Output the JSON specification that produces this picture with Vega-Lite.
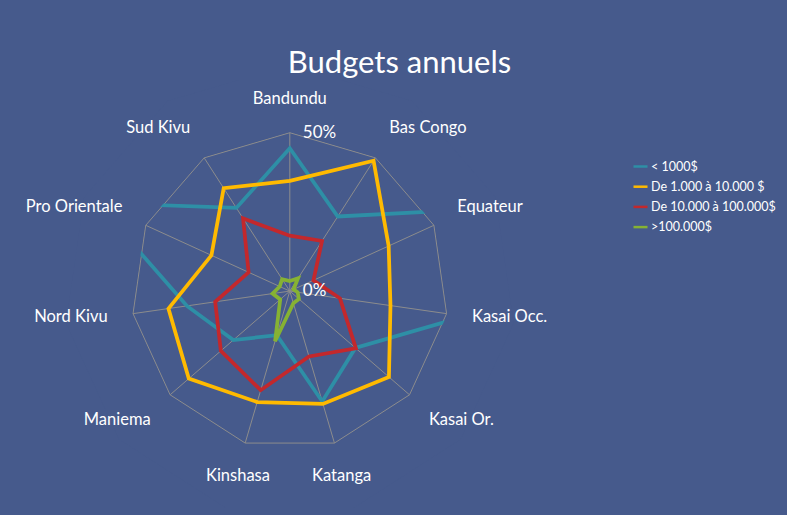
{
  "$schema": "https://vega.github.io/schema/vega-lite/v6.json",
  "width": 787,
  "height": 435,
  "autosize": {"type": "none"},
  "padding": {"left": 0, "top": 80, "right": 0, "bottom": 0},
  "background": "#465A8C",
  "view": {"fill": "#465A8C", "stroke": null},
  "config": {"font": "Lato"},
  "title": {"text": "Budgets annuels", "color": "#ffffff", "fontSize": 31, "font": "Lato", "fontWeight": "normal", "anchor": "middle", "frame": "group", "offset": -24, "baseline": "alphabetic", "dx": 6},
  "datasets": {
    "budgets": [
      {"region": "Bandundu", "series": "< 1000$", "value": 45.1},
      {"region": "Bas Congo", "series": "< 1000$", "value": 28.0},
      {"region": "Equateur", "series": "< 1000$", "value": 61.9},
      {"region": "Kasai Occ.", "series": "< 1000$", "value": 55.8},
      {"region": "Kasai Or.", "series": "< 1000$", "value": 27.4},
      {"region": "Katanga", "series": "< 1000$", "value": 36.3},
      {"region": "Kinshasa", "series": "< 1000$", "value": 14.5},
      {"region": "Maniema", "series": "< 1000$", "value": 23.6},
      {"region": "Nord Kivu", "series": "< 1000$", "value": 32.8},
      {"region": "Pro Orientale", "series": "< 1000$", "value": 67.0},
      {"region": "Sud Kivu", "series": "< 1000$", "value": 31.2},
      {"region": "Bandundu", "series": "De 1.000 à 10.000 $", "value": 34.8},
      {"region": "Bas Congo", "series": "De 1.000 à 10.000 $", "value": 48.9},
      {"region": "Equateur", "series": "De 1.000 à 10.000 $", "value": 34.3},
      {"region": "Kasai Occ.", "series": "De 1.000 à 10.000 $", "value": 32.1},
      {"region": "Kasai Or.", "series": "De 1.000 à 10.000 $", "value": 41.4},
      {"region": "Katanga", "series": "De 1.000 à 10.000 $", "value": 37.1},
      {"region": "Kinshasa", "series": "De 1.000 à 10.000 $", "value": 36.5},
      {"region": "Maniema", "series": "De 1.000 à 10.000 $", "value": 42.2},
      {"region": "Nord Kivu", "series": "De 1.000 à 10.000 $", "value": 38.7},
      {"region": "Pro Orientale", "series": "De 1.000 à 10.000 $", "value": 27.2},
      {"region": "Sud Kivu", "series": "De 1.000 à 10.000 $", "value": 38.6},
      {"region": "Bandundu", "series": "De 10.000 à 100.000$", "value": 17.5},
      {"region": "Bas Congo", "series": "De 10.000 à 100.000$", "value": 18.8},
      {"region": "Equateur", "series": "De 10.000 à 100.000$", "value": 8.2},
      {"region": "Kasai Occ.", "series": "De 10.000 à 100.000$", "value": 16.0},
      {"region": "Kasai Or.", "series": "De 10.000 à 100.000$", "value": 27.6},
      {"region": "Katanga", "series": "De 10.000 à 100.000$", "value": 21.5},
      {"region": "Kinshasa", "series": "De 10.000 à 100.000$", "value": 32.6},
      {"region": "Maniema", "series": "De 10.000 à 100.000$", "value": 28.8},
      {"region": "Nord Kivu", "series": "De 10.000 à 100.000$", "value": 23.8},
      {"region": "Pro Orientale", "series": "De 10.000 à 100.000$", "value": 14.3},
      {"region": "Sud Kivu", "series": "De 10.000 à 100.000$", "value": 27.3},
      {"region": "Bandundu", "series": ">100.000$", "value": 3.2},
      {"region": "Bas Congo", "series": ">100.000$", "value": 4.8},
      {"region": "Equateur", "series": ">100.000$", "value": 1.3},
      {"region": "Kasai Occ.", "series": ">100.000$", "value": 2.5},
      {"region": "Kasai Or.", "series": ">100.000$", "value": 3.8},
      {"region": "Katanga", "series": ">100.000$", "value": 4.0},
      {"region": "Kinshasa", "series": ">100.000$", "value": 16.5},
      {"region": "Maniema", "series": ">100.000$", "value": 4.0},
      {"region": "Nord Kivu", "series": ">100.000$", "value": 5.5},
      {"region": "Pro Orientale", "series": ">100.000$", "value": 3.5},
      {"region": "Sud Kivu", "series": ">100.000$", "value": 4.5}
    ],
    "regions": [
      {"region": "Bandundu"}, {"region": "Bas Congo"}, {"region": "Equateur"}, {"region": "Kasai Occ."},
      {"region": "Kasai Or."}, {"region": "Katanga"}, {"region": "Kinshasa"}, {"region": "Maniema"},
      {"region": "Nord Kivu"}, {"region": "Pro Orientale"}, {"region": "Sud Kivu"}
    ],
    "valueTicks": [
      {"v": 0, "label": "0%"},
      {"v": 50, "label": "50%"}
    ]
  },
  "layer": [
    {
      "data": {"name": "regions"},
      "transform": [
        {"calculate": "indexof(['Bandundu','Bas Congo','Equateur','Kasai Occ.','Kasai Or.','Katanga','Kinshasa','Maniema','Nord Kivu','Pro Orientale','Sud Kivu'], datum.region)", "as": "idx"},
        {"calculate": "datum.idx * 2 * PI / 11", "as": "ang"},
        {"calculate": "50 * sin(datum.ang)", "as": "px"},
        {"calculate": "50 * cos(datum.ang)", "as": "py"}
      ],
      "mark": {"type": "rule", "color": "#8c8c8c", "strokeWidth": 1},
      "encoding": {
        "x": {"field": "px", "type": "quantitative", "scale": {"domain": [-91.48, 156.94], "nice": false, "zero": false}, "axis": null},
        "y": {"field": "py", "type": "quantitative", "scale": {"domain": [-70.68, 66.64], "nice": false, "zero": false}, "axis": null},
        "x2": {"datum": 0},
        "y2": {"datum": 0}
      }
    },
    {
      "data": {"name": "regions"},
      "transform": [
        {"calculate": "indexof(['Bandundu','Bas Congo','Equateur','Kasai Occ.','Kasai Or.','Katanga','Kinshasa','Maniema','Nord Kivu','Pro Orientale','Sud Kivu'], datum.region)", "as": "idx"},
        {"calculate": "datum.idx * 2 * PI / 11", "as": "ang"},
        {"calculate": "50 * sin(datum.ang)", "as": "px"},
        {"calculate": "50 * cos(datum.ang)", "as": "py"}
      ],
      "mark": {"type": "line", "color": "#8c8c8c", "strokeWidth": 1, "interpolate": "linear-closed"},
      "encoding": {
        "x": {"field": "px", "type": "quantitative", "axis": null},
        "y": {"field": "py", "type": "quantitative", "axis": null},
        "order": {"field": "idx", "type": "quantitative"}
      }
    },
    {
      "data": {"name": "budgets"},
      "transform": [
        {"calculate": "indexof(['Bandundu','Bas Congo','Equateur','Kasai Occ.','Kasai Or.','Katanga','Kinshasa','Maniema','Nord Kivu','Pro Orientale','Sud Kivu'], datum.region)", "as": "idx"},
        {"calculate": "datum.idx * 2 * PI / 11", "as": "ang"},
        {"calculate": "datum.value * sin(datum.ang)", "as": "vx"},
        {"calculate": "datum.value * cos(datum.ang)", "as": "vy"}
      ],
      "mark": {"type": "line", "strokeWidth": 3.75, "interpolate": "linear-closed", "strokeJoin": "miter", "clip": true},
      "encoding": {
        "x": {"field": "vx", "type": "quantitative", "axis": null},
        "y": {"field": "vy", "type": "quantitative", "axis": null},
        "order": {"field": "idx", "type": "quantitative"},
        "color": {
          "field": "series",
          "type": "nominal",
          "scale": {"domain": ["< 1000$", "De 1.000 à 10.000 $", "De 10.000 à 100.000$", ">100.000$"], "range": ["#2E8FA6", "#FFBA00", "#C3282C", "#86B233"]},
          "legend": {"orient": "none", "legendX": 632, "legendY": 78, "title": null, "symbolType": "stroke", "symbolSize": 196, "symbolStrokeWidth": 2.5, "labelColor": "#ffffff", "labelFontSize": 12.5, "labelFont": "Lato", "rowPadding": 5.2, "padding": 0, "labelOffset": 2}
        }
      }
    },
    {
      "data": {"name": "regions"},
      "transform": [
        {"calculate": "indexof(['Bandundu','Bas Congo','Equateur','Kasai Occ.','Kasai Or.','Katanga','Kinshasa','Maniema','Nord Kivu','Pro Orientale','Sud Kivu'], datum.region)", "as": "idx"},
        {"calculate": "datum.idx * 2 * PI / 11", "as": "ang"},
        {"calculate": "60.85 * sin(datum.ang)", "as": "mx"},
        {"calculate": "60.85 * cos(datum.ang)", "as": "my"}
      ],
      "mark": {"type": "line", "color": "#465A8C", "strokeWidth": 64, "interpolate": "linear-closed", "strokeJoin": "miter", "clip": true},
      "encoding": {
        "x": {"field": "mx", "type": "quantitative", "axis": null},
        "y": {"field": "my", "type": "quantitative", "axis": null},
        "order": {"field": "idx", "type": "quantitative"}
      }
    },
    {
      "data": {"name": "regions"},
      "transform": [
        {"calculate": "indexof(['Bandundu','Bas Congo','Equateur','Kasai Occ.','Kasai Or.','Katanga','Kinshasa','Maniema','Nord Kivu','Pro Orientale','Sud Kivu'], datum.region)", "as": "idx"},
        {"calculate": "datum.idx * 2 * PI / 11", "as": "ang"},
        {"calculate": "58.1 * sin(datum.ang)", "as": "lx"},
        {"calculate": "58.1 * cos(datum.ang)", "as": "ly"},
        {"calculate": "sin(datum.ang) > 0.3 ? 'left' : (sin(datum.ang) < -0.3 ? 'right' : 'center')", "as": "al"},
        {"calculate": "cos(datum.ang) > 0.3 ? 'bottom' : (cos(datum.ang) < -0.3 ? 'top' : 'middle')", "as": "bl"}
      ],
      "mark": {"type": "text", "color": "#ffffff", "fontSize": 16.5, "font": "Lato", "align": {"expr": "datum.al"}, "baseline": {"expr": "datum.bl"}},
      "encoding": {
        "x": {"field": "lx", "type": "quantitative", "axis": null},
        "y": {"field": "ly", "type": "quantitative", "axis": null},
        "text": {"field": "region"}
      }
    },
    {
      "data": {"name": "valueTicks"},
      "mark": {"type": "text", "color": "#ffffff", "fontSize": 17, "font": "Lato", "align": "left", "baseline": "middle", "dx": 13},
      "encoding": {
        "x": {"datum": 0, "type": "quantitative"},
        "y": {"field": "v", "type": "quantitative", "axis": null},
        "text": {"field": "label"}
      }
    }
  ]
}
